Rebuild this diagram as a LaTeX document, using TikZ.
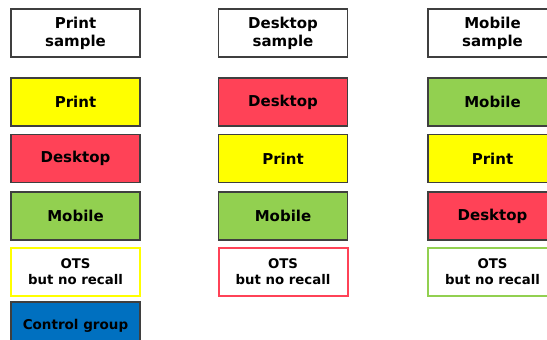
\documentclass[tikz,border=0pt]{standalone}
\usepackage{fontspec}
\setmainfont{DejaVu Sans}
\definecolor{printcol}{HTML}{FFFF00}
\definecolor{desktopcol}{HTML}{FF4257}
\definecolor{mobilecol}{HTML}{92D050}
\definecolor{controlcol}{HTML}{0070C0}
\definecolor{edgecol}{HTML}{3F3F3F}
\tikzset{
  box/.style={draw=edgecol,line width=1.2pt,minimum width=129pt,minimum height=48pt,
    inner sep=0pt,align=center,text=black,font=\fontsize{15}{18}\selectfont\bfseries},
  head/.style={box,fill=white},
  otsbox/.style={box,fill=white,line width=2pt,font=\fontsize{13.3}{16}\selectfont\bfseries},
  ctrlbox/.style={box,font=\fontsize{13.5}{16}\selectfont\bfseries}
}
\begin{document}
\begin{tikzpicture}[x=1pt,y=-1pt]
  \useasboundingbox (0,0) rectangle (547,340);
  \clip (0,0) rectangle (547,340);
  % print sample
  \node[head] (printhead) at (75.5,33) {Print\\sample};
  \node[box,fill=printcol] (printprint) at (75.5,102) {Print};
  \node[box,fill=desktopcol] (printdesktop) at (75.5,158.5) {Desktop};
  \node[box,fill=mobilecol] (printmobile) at (75.5,216) {Mobile};
  \node[otsbox,draw=printcol] (printots) at (75.5,272) {OTS\\but no recall};
  \node[ctrlbox,fill=controlcol] (control) at (75.5,326) {Control group};
  % desktop sample
  \node[head] (deskhead) at (283,33) {Desktop\\sample};
  \node[box,fill=desktopcol] (deskdesktop) at (283,102) {Desktop};
  \node[box,fill=printcol] (deskprint) at (283,158.5) {Print};
  \node[box,fill=mobilecol] (deskmobile) at (283,216) {Mobile};
  \node[otsbox,draw=desktopcol] (deskots) at (283,272) {OTS\\but no recall};
  % mobile sample
  \node[head] (mobhead) at (492.5,33) {Mobile\\sample};
  \node[box,fill=mobilecol] (mobmobile) at (492.5,102) {Mobile};
  \node[box,fill=printcol] (mobprint) at (492.5,158.5) {Print};
  \node[box,fill=desktopcol] (mobdesktop) at (492.5,216) {Desktop};
  \node[otsbox,draw=mobilecol] (mobots) at (492.5,272) {OTS\\but no recall};
\end{tikzpicture}
\end{document}
